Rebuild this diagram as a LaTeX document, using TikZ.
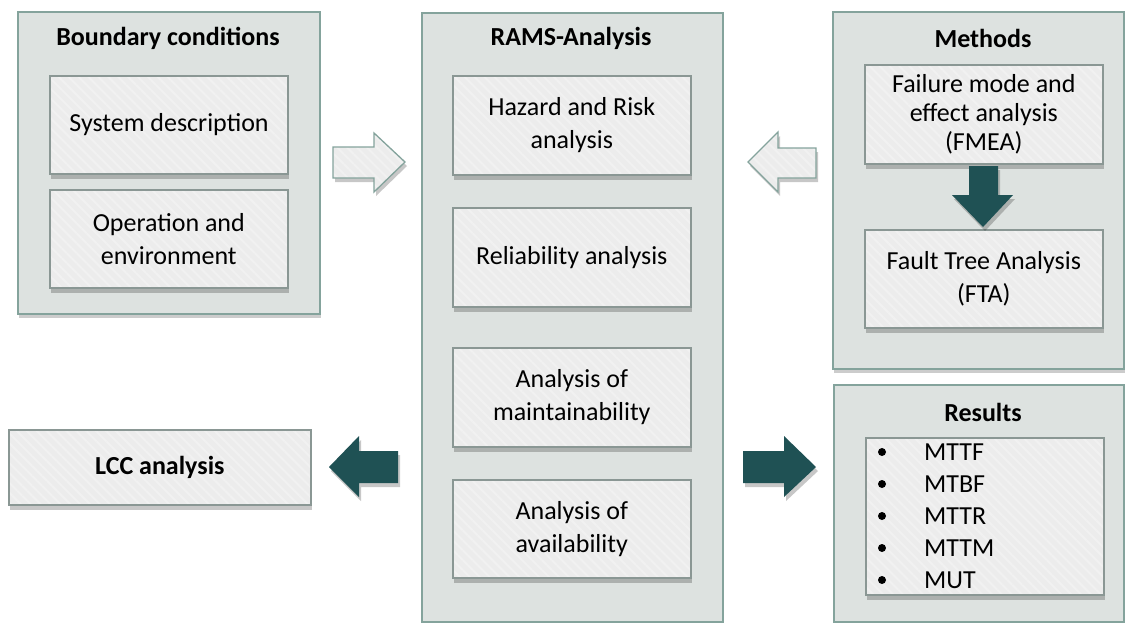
\documentclass[tikz,border=0pt]{standalone}
\usepackage{fontspec}
\setmainfont{Carlito}
\usetikzlibrary{shadows,patterns.meta}

\definecolor{panel}{HTML}{DDE2E0}
\definecolor{frame}{HTML}{84A39C}
\definecolor{boxfill}{HTML}{ECECEC}
\definecolor{boxline}{HTML}{8A9794}
\definecolor{stripe}{HTML}{F1F1F1}
\definecolor{petrol}{HTML}{1F5154}

\tikzset{
    panel/.style = {draw = frame, line width = 1.6pt, anchor = north west, inner sep = 0pt,
        drop shadow = {shadow xshift = 1pt, shadow yshift = -4pt, fill = black, opacity = 0.2},
        preaction = {fill = panel}},
    block/.style = {draw = boxline, line width = 1.6pt, anchor = north west, align = center, inner sep = 0pt,
        drop shadow = {shadow xshift = 1pt, shadow yshift = -5pt, fill = black, opacity = 0.22},
        preaction = {fill = boxfill},
        pattern = {Lines[angle = -45, distance = 7pt, line width = 2pt]}, pattern color = stripe},
    heading/.style = {font = \fontsize{26}{33}\selectfont\bfseries},
    lightarrow/.style = {draw = frame, line width = 1.3pt, line join = miter,
        drop shadow = {shadow xshift = 2pt, shadow yshift = -4pt, fill = black, opacity = 0.22},
        preaction = {fill = boxfill},
        pattern = {Lines[angle = -45, distance = 7pt, line width = 2pt]}, pattern color = stripe},
    darkarrow/.style = {fill = petrol,
        drop shadow = {shadow xshift = 2pt, shadow yshift = -4pt, fill = black, opacity = 0.22}}
}

\begin{document}
\begin{tikzpicture}[x = 1pt, y = -1pt, every node/.style = {font = \fontsize{26}{33}\selectfont}]
    \useasboundingbox (0, 0) rectangle (1125, 622);

    % outer panels
    \node[panel, minimum width = 302pt, minimum height = 302pt] (bound) at (17, 11) {};
    \node[panel, minimum width = 301pt, minimum height = 609pt] (rams) at (421, 12) {};
    \node[panel, minimum width = 291pt, minimum height = 357pt] (methods) at (832, 11) {};
    \node[panel, minimum width = 290pt, minimum height = 237pt] (results) at (833, 384) {};

    \node[heading] (boundtitle) at (168, 38) {Boundary conditions};
    \node[heading] (ramstitle) at (571, 38) {RAMS-Analysis};
    \node[heading] (methodstitle) at (983, 38) {Methods};
    \node[heading] (resultstitle) at (983, 412) {Results};

    % boundary conditions
    \node[block, minimum width = 238pt, minimum height = 98pt] (sysdesc) at (49, 75) {System description};
    \node[block, minimum width = 238pt, minimum height = 98pt] (operation) at (49, 189) {Operation and\\environment};

    % RAMS analysis
    \node[block, minimum width = 238pt, minimum height = 99pt] (hazard) at (452, 75) {Hazard and Risk\\analysis};
    \node[block, minimum width = 238pt, minimum height = 99pt] (reliab) at (452, 207) {Reliability analysis};
    \node[block, minimum width = 238pt, minimum height = 99pt] (maintain) at (452, 347) {Analysis of\\maintainability};
    \node[block, minimum width = 238pt, minimum height = 98pt] (avail) at (452, 479) {Analysis of\\availability};

    % methods
    \node[block, minimum width = 238pt, minimum height = 99pt, font = \fontsize{26}{29}\selectfont] (fmea) at (864, 64) {Failure mode and\\effect analysis\\(FMEA)};
    \node[block, minimum width = 238pt, minimum height = 98pt] (fta) at (864, 229) {Fault Tree Analysis\\(FTA)};

    % results
    \node[block, minimum width = 238pt, minimum height = 157pt] (reslist) at (865, 437) {};
    \foreach \name [count = \i] in {MTTF, MTBF, MTTR, MTTM, MUT} {
        \fill (882, 420 + 32 * \i) circle (4pt) coordinate (bullet\i);
        \node[anchor = west, inner sep = 0pt] (item\i) at (924, 420 + 32 * \i) {\name};
    }

    % LCC
    \node[block, minimum width = 302pt, minimum height = 75pt, heading] (lcc) at (8, 429) {LCC analysis};

    % block arrows
    \draw[lightarrow] (333, 147) -- ++ (41, 0) -- ++ (0, -14) -- (405, 162) -- (374, 192) -- ++ (0, -14) -- ++ (-41, 0) -- cycle;
    \draw[lightarrow] (816, 148) -- ++ (-38, 0) -- ++ (0, -16) -- (748, 162) -- (778, 192) -- ++ (0, -14) -- ++ (38, 0) -- cycle;
    \fill[darkarrow] (398, 451) -- ++ (-39, 0) -- ++ (0, -15) -- (329, 467) -- (359, 497) -- ++ (0, -14) -- ++ (39, 0) -- cycle;
    \fill[darkarrow] (743, 451) -- ++ (41, 0) -- ++ (0, -15) -- (816, 467) -- (784, 497) -- ++ (0, -14) -- ++ (-41, 0) -- cycle;
    \fill[darkarrow] (969, 166) -- ++ (29, 0) -- ++ (0, 29) -- ++ (15, 0) -- (983, 227) -- (952, 195) -- ++ (17, 0) -- cycle;
\end{tikzpicture}
\end{document}
